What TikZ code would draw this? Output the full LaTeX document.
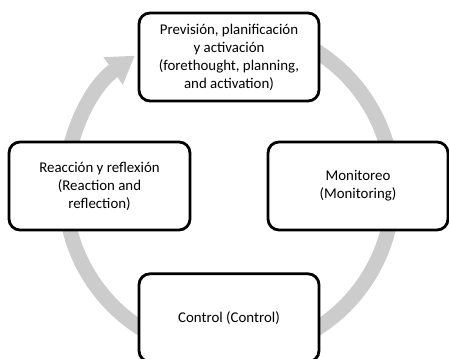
\documentclass[tikz,border=0pt]{standalone}
\usepackage{fontspec}
\setmainfont{Carlito}
\usepackage{tikz}
\usetikzlibrary{arrows.meta, positioning}
\usepackage{xcolor}
\definecolor{ringgray}{HTML}{CCCCCC}
\tikzstyle{phase} = [%
  rectangle,
  draw=black,
  line width=2.4pt,
  rounded corners=0.33cm,
  fill=white,
  minimum width=5.4cm,
  minimum height=2.64cm,
  align=center,
  text centered,
  inner sep=2pt,
  font=\fontsize{12.7}{15.4}\selectfont
]

\begin{document}
\begin{tikzpicture}[%
  ring/.style={%
    draw=ringgray,
    line width=0.45cm,
    -{Triangle[width=0.95cm,length=0.8cm]}
  }
]
  \useasboundingbox (0,0) rectangle (13.47,10.77);

  % Cycle centre
  \coordinate (C) at (6.87,5.07);

  % Ring
  \draw[ring] (C) ++(90:4.92) arc[start angle=90, end angle=-235, radius=4.92cm];

  % Nodes
  \node[phase] (plan) at (6.87,9.06) {Previsión, planificación\\y activación\\(forethought, planning,\\and activation)};
  \node[phase,below=5.1cm of plan] (ctrl) {Control (Control)};
  \node[phase,minimum width=5.43cm] (react) at (2.985,5.19) {Reacción y reflexión\\(Reaction and\\reflection)};
  \node[phase] (monit) at (10.74,5.19) {Monitoreo\\(Monitoring)};

\end{tikzpicture}
\end{document}
